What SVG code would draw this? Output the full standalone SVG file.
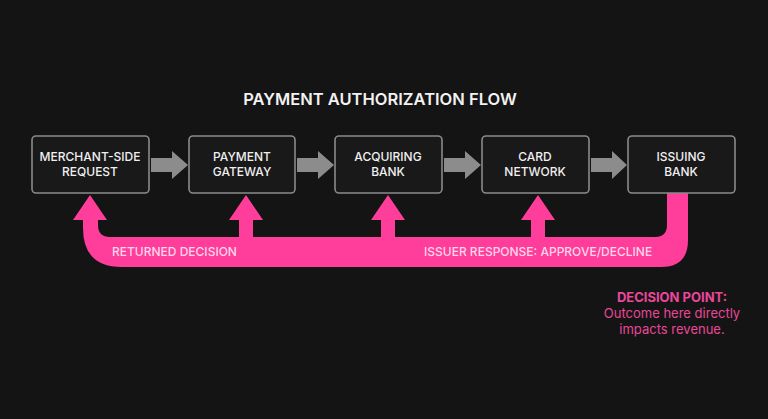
<svg xmlns="http://www.w3.org/2000/svg" width="768" height="419" viewBox="0 0 768 419">
<style>
.box{fill:#1a1919;stroke:#8a8a8a;stroke-width:1.6}
.t{font-family:Inter,"Liberation Sans",sans-serif;font-size:12px;fill:#f0f0f0;text-anchor:middle;font-weight:500}
.g{fill:#8c8c8c}
.pl{font-family:Inter,"Liberation Sans",sans-serif;font-size:12px;fill:#ffd6ea;font-weight:500}
.d{font-family:Inter,"Liberation Sans",sans-serif;font-size:13px;fill:#e8479a;text-anchor:middle}
</style>
<rect width="768" height="419" fill="#151414"/>
<text x="380" y="105" font-family="Inter,'Liberation Sans',sans-serif" font-size="16.5" font-weight="600" fill="#f2f2f2" text-anchor="middle">PAYMENT AUTHORIZATION FLOW</text>
<g id="connectors">
<path class="g" d="M151 158H172V151L188 165L172 179V172H151Z"/>
<path class="g" d="M297 158H318V151L334 165L318 179V172H297Z"/>
<path class="g" d="M444 158H465V151L481 165L465 179V172H444Z"/>
<path class="g" d="M591 158H612V151L627 165L612 179V172H591Z"/>
<path fill="#ff3d9a" d="M667 193H688V240Q688 267 661 267H122Q83 267 83 228V220H73L90 195L107 220H98V225Q98 237 110 237H239V220H229L246 195L263 220H253V237H381V220H371L388 195L405 220H395V237H531V220H521L538 195L555 220H545V237H655Q667 237 667 225Z"/>
<text class="pl" x="112" y="256">RETURNED DECISION</text>
<text class="pl" x="424" y="256">ISSUER RESPONSE: APPROVE/DECLINE</text>
</g>
<g id="n1"><rect class="box" x="32" y="136" width="117" height="57" rx="4"/><text class="t" x="90" y="161">MERCHANT-SIDE</text><text class="t" x="90" y="176">REQUEST</text></g>
<g id="n2"><rect class="box" x="189" y="136" width="106" height="57" rx="4"/><text class="t" x="242" y="161">PAYMENT</text><text class="t" x="242" y="176">GATEWAY</text></g>
<g id="n3"><rect class="box" x="335" y="136" width="107" height="57" rx="4"/><text class="t" x="388" y="161">ACQUIRING</text><text class="t" x="388" y="176">BANK</text></g>
<g id="n4"><rect class="box" x="482" y="136" width="107" height="57" rx="4"/><text class="t" x="535" y="161">CARD</text><text class="t" x="535" y="176">NETWORK</text></g>
<g id="n5"><rect class="box" x="628" y="136" width="107" height="57" rx="4"/><text class="t" x="681" y="161">ISSUING</text><text class="t" x="681" y="176">BANK</text></g>
<g id="note">
<text class="d" x="672" y="302" font-weight="700">DECISION POINT:</text>
<text class="d" x="672" y="318">Outcome here directly</text>
<text class="d" x="672" y="334">impacts revenue.</text>
</g>
</svg>
